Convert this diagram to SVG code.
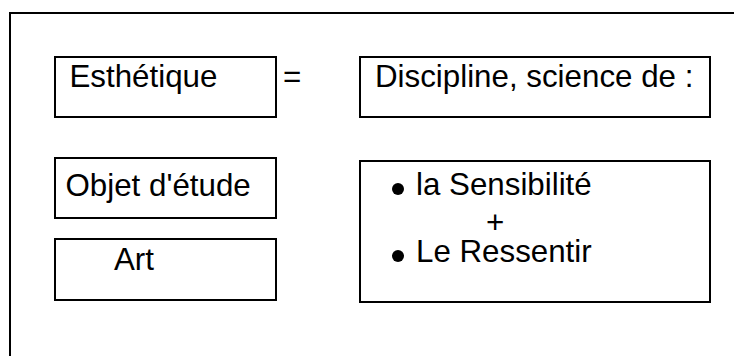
<svg xmlns="http://www.w3.org/2000/svg" width="734" height="356" viewBox="0 0 734 356">
  <style>
    .box { fill: #ffffff; stroke: #000000; stroke-width: 2; }
    .frame { fill: none; stroke: #000000; stroke-width: 2; }
    .lbl { font-family: "Liberation Sans", Arial, sans-serif; font-size: 31.3px; fill: #000000; }
  </style>
  <rect width="734" height="356" fill="#ffffff"/>
  <!-- outer frame, open past the right and bottom edges -->
  <rect class="frame" x="10" y="13" width="740" height="360"/>

  <g id="esthetique">
    <rect class="box" x="55" y="57" width="221" height="60"/>
    <text class="lbl" x="69.5" y="87">Esthétique</text>
  </g>

  <g id="connectors">
    <text class="lbl" x="283" y="87">=</text>
  </g>

  <g id="discipline">
    <rect class="box" x="360" y="57" width="350" height="60"/>
    <text class="lbl" x="375" y="87">Discipline, science de :</text>
  </g>

  <g id="objet">
    <rect class="box" x="55" y="158" width="221" height="60"/>
    <text class="lbl" x="65.5" y="196">Objet d'étude</text>
  </g>

  <g id="art">
    <rect class="box" x="55" y="239" width="221" height="61"/>
    <text class="lbl" x="114" y="270">Art</text>
  </g>

  <g id="sensibilite">
    <rect class="box" x="360" y="161" width="350" height="141"/>
    <circle cx="398" cy="189" r="6"/>
    <text class="lbl" x="416" y="195">la Sensibilité</text>
    <text class="lbl" x="486" y="233">+</text>
    <circle cx="398" cy="256" r="6"/>
    <text class="lbl" x="416" y="262">Le Ressentir</text>
  </g>
</svg>
